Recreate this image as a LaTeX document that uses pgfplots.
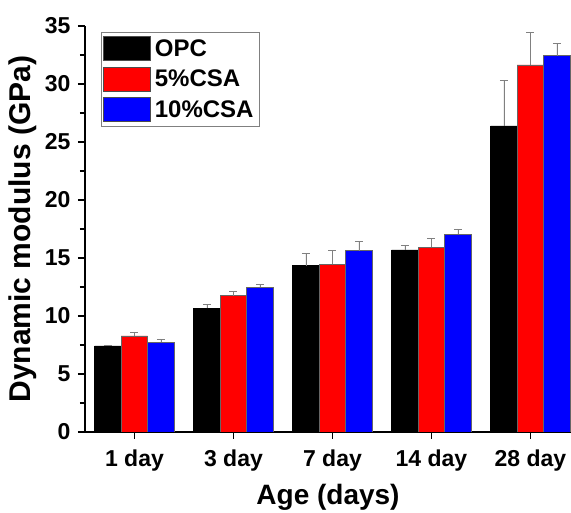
\documentclass[border=0pt]{standalone}
\usepackage{pgfplots}
\pgfplotsset{compat=1.18}
\usepackage{fontspec}
\setmainfont{Liberation Sans}

% Dynamic modulus (GPa) by curing age; errors are the upper deviation
\pgfplotstableread{
x  opc    opce  csa5   csa5e  csa10  csa10e
0  7.42   0.05  8.28   0.28   7.74   0.28
1  10.66  0.37  11.75  0.38   12.47  0.26
2  14.34  1.06  14.45  1.18   15.63  0.78
3  15.69  0.40  15.92  0.80   17.04  0.46
4  26.38  3.93  31.64  2.80   32.44  1.07
}\modulus

\definecolor{barred}{RGB}{255,0,0}
\definecolor{barblue}{RGB}{0,0,255}

\begin{document}
\begin{tikzpicture}
\begin{axis}[
  scale only axis,
  width=486pt, height=406pt,
  xmin=-0.5, xmax=4.41,
  ymin=0, ymax=35,
  axis x line*=bottom, axis y line*=left,
  axis line style={line width=1.3pt, -},
  ybar=0pt, bar width=26.5pt,
  xtick=data,
  xticklabels={1 day, 3 day, 7 day, 14 day, 28 day},
  ytick={0,5,...,35},
  minor y tick num=1,
  tick align=outside,
  major tick length=7pt, minor tick length=5pt,
  tick style={line width=1.2pt, black},
  /pgf/number format/assume math mode=true,
  tick label style={font=\fontsize{23}{27}\selectfont\bfseries},
  xticklabel style={yshift=-7pt},
  yticklabel style={xshift=-4pt},
  xlabel={Age (days)},
  ylabel={Dynamic modulus (GPa)},
  xlabel style={font=\fontsize{28}{32}\selectfont\bfseries, yshift=-6pt},
  ylabel style={font=\fontsize{30}{34}\selectfont\bfseries, yshift=1pt},
  error bars/y dir=plus, error bars/y explicit,
  error bars/error bar style={gray, line width=0.8pt},
  error bars/error mark options={rotate=90, gray, mark size=4pt, line width=0.8pt},
  legend cell align=left,
  legend style={at={(rel axis cs:0.033,0.985)}, anchor=north west,
    draw=gray, line width=0.6pt,
    font=\fontsize{24}{28}\selectfont\bfseries,
    inner xsep=2pt, inner ysep=4pt, row sep=6pt,
    nodes={inner xsep=4pt}},
  legend image code/.code={\draw[#1, draw=black!70, line width=0.5pt] (0pt,-12pt) rectangle (47pt,12pt);},
]
\addplot[fill=black, draw=black, line width=0.5pt] table[x=x, y=opc, y error=opce] {\modulus};
\addplot[fill=barred, draw=black!60, line width=0.5pt] table[x=x, y=csa5, y error=csa5e] {\modulus};
\addplot[fill=barblue, draw=black!60, line width=0.5pt] table[x=x, y=csa10, y error=csa10e] {\modulus};
\legend{OPC, 5\%CSA, 10\%CSA}
\end{axis}
\pgfresetboundingbox
\useasboundingbox (-85pt,-81pt) rectangle (486pt,432pt);
\end{tikzpicture}
\end{document}
